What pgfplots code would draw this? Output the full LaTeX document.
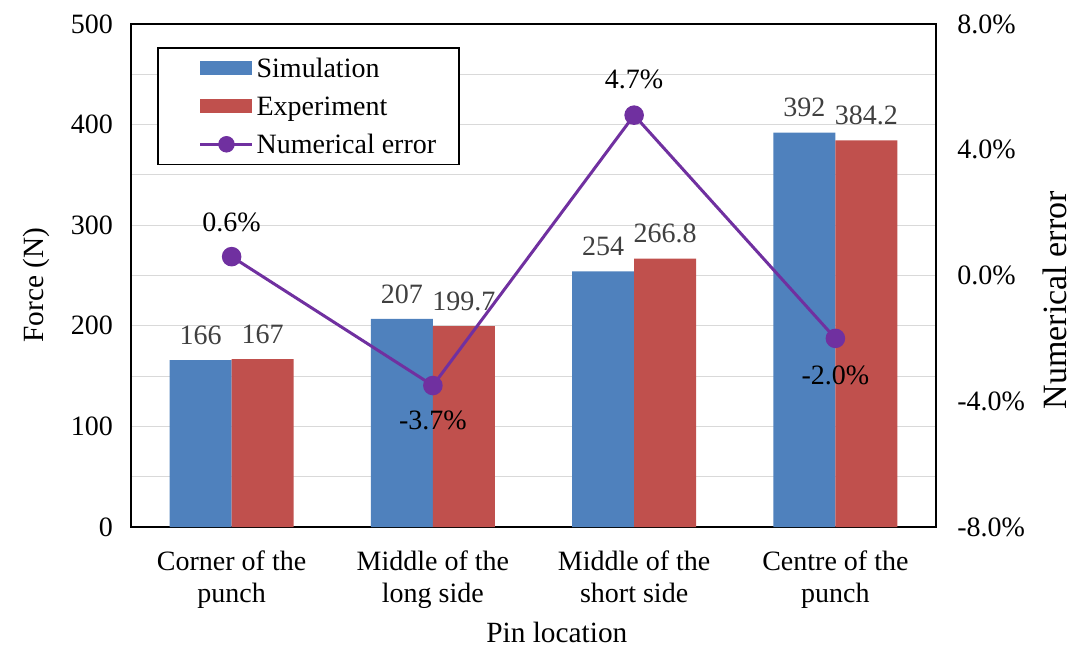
\documentclass[border=0pt]{standalone}
\usepackage{fontspec}
\setmainfont{Liberation Serif}
\usepackage{pgfplots}
\pgfplotsset{compat=1.18}
\definecolor{simblue}{HTML}{4F81BD}
\definecolor{expred}{HTML}{C0504D}
\definecolor{errpurple}{HTML}{7030A0}
\definecolor{gridgrey}{HTML}{D9D9D9}
\definecolor{labelgrey}{HTML}{404040}
\newcommand{\cf}{\fontsize{21}{24}\selectfont}
\begin{document}
\begin{tikzpicture}
\useasboundingbox (-98.25pt,-91.5pt) rectangle (706.5pt,395.25pt);
\begin{axis}[
  at={(0,0)}, anchor=south west,
  scale only axis, width=603.75pt, height=377.25pt,
  ybar=0pt, bar width=46.5pt,
  xmin=-0.5, xmax=3.5, ymin=0, ymax=500,
  xtick={0,1,2,3},
  xticklabels={Corner of the\\punch, Middle of the\\long side, Middle of the\\short side, Centre of the\\punch},
  xticklabel style={align=center, yshift=-14.5pt, font=\cf},
  ytick={0,100,...,500}, minor ytick={50,150,...,450},
  ymajorgrids, yminorgrids,
  grid style={color=gridgrey, line width=0.8pt},
  minor grid style={color=gridgrey, line width=0.8pt},
  major tick length=0pt, minor tick length=0pt,
  axis line style={line width=1.8pt},
  tick label style={font=\cf},
  yticklabel style={xshift=-10pt},
  ylabel={Force (N)}, xlabel={Pin location},
  every axis y label/.style={at={(axis description cs:-0.118,0.481)}, anchor=center, rotate=90, font=\fontsize{22}{26}\selectfont},
  every axis x label/.style={at={(axis description cs:0.529,-0.2087)}, anchor=center, font=\fontsize{22}{26}\selectfont},
  /pgf/number format/assume math mode=true,
  nodes near coords,
  every node near coord/.append style={color=labelgrey, font=\cf, yshift=8pt},
  legend cell align=left,
  legend style={at={(axis description cs:0.0323,0.954)}, anchor=north west,
    draw=black, line width=1.2pt, font=\cf, inner xsep=15pt, inner ysep=1pt,
    row sep=0pt,
    nodes={inner xsep=2pt, inner ysep=4.25pt, text height=17pt, text depth=3pt}},
]
\addplot[fill=simblue, draw=none,
  legend image code/.code={\path[draw=none, fill=none] (-17pt,0pt) -- (0pt,0pt); \fill[simblue, draw=none] (0pt,-5.25pt) rectangle (39pt,5.25pt);}]
  coordinates {(0,166) (1,207) (2,254) (3,392)};
\addlegendentry{Simulation}
\addplot[fill=expred, draw=none,
  legend image code/.code={\path[draw=none, fill=none] (-17pt,0pt) -- (0pt,0pt); \fill[expred, draw=none] (0pt,-5.25pt) rectangle (39pt,5.25pt);}]
  coordinates {(0,167) (1,199.7) (2,266.8) (3,384.2)};
\addlegendentry{Experiment}
\addlegendimage{legend image code/.code={\path[draw=none, fill=none] (-17pt,0pt) -- (0pt,0pt);
  \draw[errpurple, line width=2.25pt] (0pt,0pt) -- (39pt,0pt);
  \fill[errpurple, draw=none] (19.5pt,0pt) circle (6.2pt);}}
\addlegendentry{Numerical error}
\end{axis}
\begin{axis}[
  at={(0,0)}, anchor=south west,
  scale only axis, width=603.75pt, height=377.25pt,
  xmin=-0.5, xmax=3.5, ymin=-8, ymax=8,
  axis y line*=right, axis x line=none,
  axis line style={line width=1.8pt},
  ytick={-8,-4,0,4,8},
  yticklabels={-8.0\%,-4.0\%,0.0\%,4.0\%,8.0\%},
  major tick length=0pt,
  tick label style={font=\cf},
  yticklabel style={xshift=12.5pt},
  ylabel={Numerical error},
  every axis y label/.style={at={(axis description cs:1.1478,0.451)}, anchor=center, rotate=90, font=\fontsize{25.5}{30}\selectfont},
]
\addplot[color=errpurple, line width=2.25pt, mark=*, mark size=6.2pt]
  coordinates {(0,0.6) (1,-3.5) (2,5.1) (3,-2.0)};
\node[font=\cf, anchor=center, yshift=26pt] at (axis cs:0,0.6) {0.6\%};
\node[font=\cf, anchor=center, yshift=-26pt] at (axis cs:1,-3.5) {-3.7\%};
\node[font=\cf, anchor=center, yshift=27pt] at (axis cs:2,5.1) {4.7\%};
\node[font=\cf, anchor=center, yshift=-28pt] at (axis cs:3,-2.0) {-2.0\%};
\end{axis}
\end{tikzpicture}
\end{document}
